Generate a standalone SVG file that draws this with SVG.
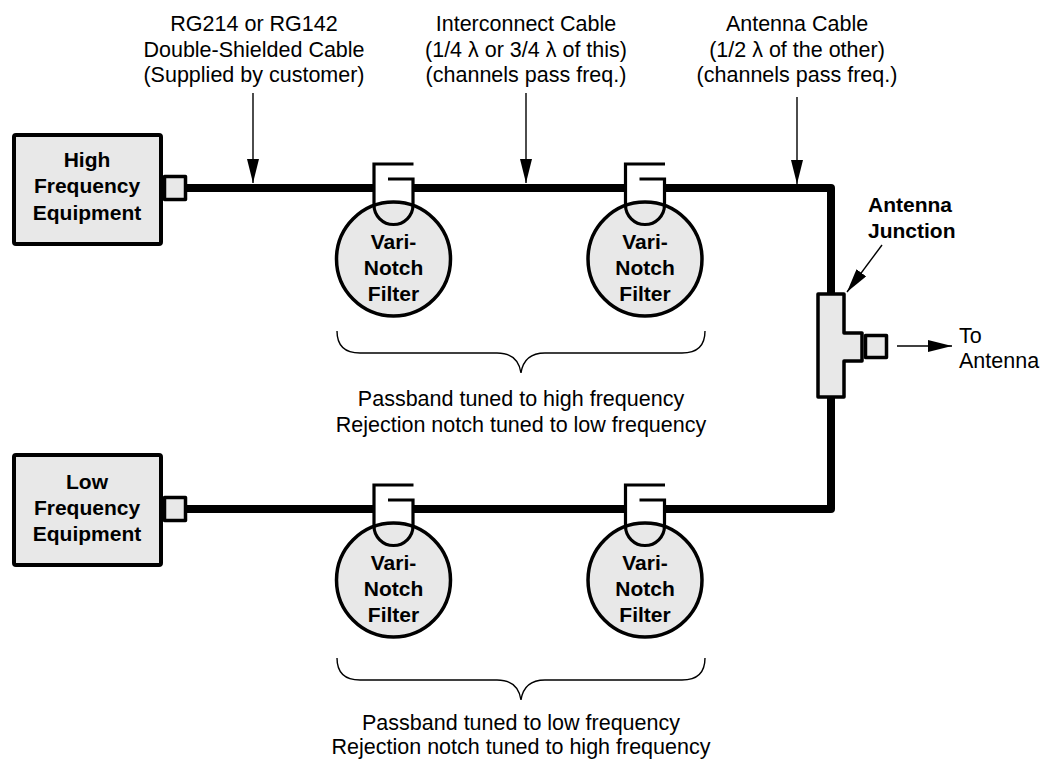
<svg xmlns="http://www.w3.org/2000/svg" width="1040" height="759" viewBox="0 0 1040 759">
<style>
  .lbl{font-family:"Liberation Sans",Arial,sans-serif;font-size:21.5px;fill:#000;text-anchor:middle}
  .bold{font-family:"Liberation Sans",Arial,sans-serif;font-size:21px;font-weight:bold;fill:#000;text-anchor:middle}
  .boldL{font-family:"Liberation Sans",Arial,sans-serif;font-size:21px;font-weight:bold;fill:#000}
  .txtL{font-family:"Liberation Sans",Arial,sans-serif;font-size:21.5px;fill:#000}
  .box{fill:#e8e8e8;stroke:#000;stroke-width:4}
  .part{fill:#e8e8e8;stroke:#000;stroke-width:3.5;stroke-linejoin:round}
  .cable{fill:none;stroke:#000;stroke-width:8;stroke-linejoin:round}
  .hook{fill:none;stroke:#000;stroke-width:3.2}
  .lead{fill:none;stroke:#000;stroke-width:1.4}
  .brace{fill:none;stroke:#000;stroke-width:1.4}
</style>
<defs>
  <marker id="arr" markerUnits="userSpaceOnUse" markerWidth="24" markerHeight="12" refX="24" refY="6" orient="auto">
    <path d="M0,0 L24,6 L0,12 Z" fill="#000"/>
  </marker>
  <g id="filter">
    <circle cx="0" cy="71" r="57" class="part"/>
    <path class="hook" d="M20,-24 H-19.5 V17 A19.5,19.5 0 0 0 19.5,17 V-9 H-5.5"/>
    <text class="bold" x="0" y="61">Vari-</text>
    <text class="bold" x="0" y="87">Notch</text>
    <text class="bold" x="0" y="113">Filter</text>
  </g>
</defs>

<g id="connectors">
  <path class="cable" d="M186,188 H374"/>
  <path class="cable" d="M413,188 H626"/>
  <path class="cable" d="M664,188 H831 V509 H664"/>
  <path class="cable" d="M626,509 H413"/>
  <path class="cable" d="M374,509 H186"/>
  <line class="lead" x1="253" y1="93" x2="253" y2="183" marker-end="url(#arr)"/>
  <line class="lead" x1="526" y1="93" x2="526" y2="183" marker-end="url(#arr)"/>
  <line class="lead" x1="797" y1="97" x2="797" y2="184" marker-end="url(#arr)"/>
  <line class="lead" x1="882" y1="245" x2="847" y2="292" marker-end="url(#arr)"/>
  <line class="lead" x1="897" y1="346" x2="952" y2="346" marker-end="url(#arr)"/>
</g>

<g id="hf-equipment">
  <rect class="box" x="14" y="135" width="147" height="109" rx="2"/>
  <rect class="part" x="164.5" y="176.5" width="21" height="23"/>
  <text class="bold" x="87" y="167">High</text>
  <text class="bold" x="87" y="193">Frequency</text>
  <text class="bold" x="87" y="220">Equipment</text>
</g>

<g id="lf-equipment">
  <rect class="box" x="14" y="455" width="147" height="110" rx="2"/>
  <rect class="part" x="164.5" y="497.5" width="21" height="23"/>
  <text class="bold" x="87" y="489">Low</text>
  <text class="bold" x="87" y="515">Frequency</text>
  <text class="bold" x="87" y="541">Equipment</text>
</g>

<g id="filter-h1"><use href="#filter" transform="translate(393.5,188)"/></g>
<g id="filter-h2"><use href="#filter" transform="translate(645,188)"/></g>
<g id="filter-l1"><use href="#filter" transform="translate(393.5,509)"/></g>
<g id="filter-l2"><use href="#filter" transform="translate(645,509)"/></g>

<g id="antenna-junction">
  <polygon class="part" points="818,294 844,294 844,333 862,333 862,361 844,361 844,397 818,397"/>
  <rect class="part" x="865.5" y="335.5" width="21" height="22"/>
  <text class="boldL" x="868" y="212">Antenna</text>
  <text class="boldL" x="868" y="238">Junction</text>
</g>

<g id="to-antenna">
  <text class="txtL" x="959" y="343">To</text>
  <text class="txtL" x="959" y="368">Antenna</text>
</g>

<g id="label-rg">
  <text class="lbl" x="254" y="31">RG214 or RG142</text>
  <text class="lbl" x="254" y="57">Double-Shielded Cable</text>
  <text class="lbl" x="254" y="82">(Supplied by customer)</text>
</g>
<g id="label-interconnect">
  <text class="lbl" x="526" y="31">Interconnect Cable</text>
  <text class="lbl" x="526" y="57">(1/4 λ or 3/4 λ of this)</text>
  <text class="lbl" x="526" y="82">(channels pass freq.)</text>
</g>
<g id="label-antenna-cable">
  <text class="lbl" x="797" y="31">Antenna Cable</text>
  <text class="lbl" x="797" y="57">(1/2 λ of the other)</text>
  <text class="lbl" x="797" y="82">(channels pass freq.)</text>
</g>

<g id="brace-high">
  <path class="brace" d="M337,331 Q337,353 360,353 H497 Q518,353 521,373 Q524,353 545,353 H682 Q705,353 705,331"/>
  <text class="lbl" x="521" y="406">Passband tuned to high frequency</text>
  <text class="lbl" x="521" y="432">Rejection notch tuned to low frequency</text>
</g>
<g id="brace-low">
  <path class="brace" d="M337,658 Q337,680 360,680 H497 Q518,680 521,700 Q524,680 545,680 H682 Q705,680 705,658"/>
  <text class="lbl" x="521" y="730">Passband tuned to low frequency</text>
  <text class="lbl" x="521" y="754">Rejection notch tuned to high frequency</text>
</g>
</svg>
